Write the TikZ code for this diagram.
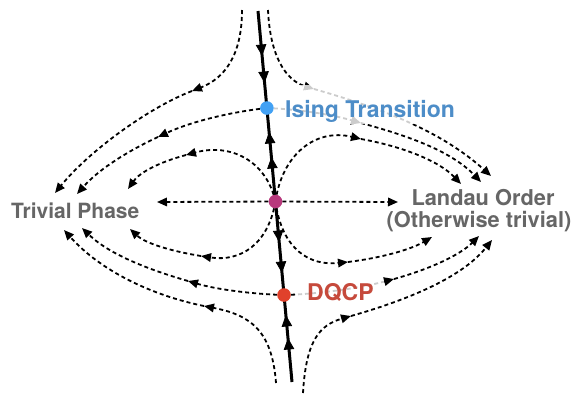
\documentclass[tikz,border=0pt]{standalone}
\usepackage{fontspec}
\setmainfont{TeX Gyre Heros}
\usetikzlibrary{arrows.meta,calc}
\definecolor{isingdot}{HTML}{42A1F4}
\definecolor{magentadot}{HTML}{B8397D}
\definecolor{dqcpdot}{HTML}{E0412B}
\definecolor{isingtext}{HTML}{4D8DC8}
\definecolor{dqcptext}{HTML}{C64A3C}
\definecolor{graytext}{HTML}{666666}
\begin{document}
\begin{tikzpicture}[x=1pt,y=-1pt,
  flow/.style={line width=1.8pt, dash pattern=on 4pt off 3pt, -{Triangle[length=10pt,width=8.5pt]}},
  mainline/.style={line width=3pt},
  mainarr/.style={line width=0.8pt, -{Triangle[length=11.5pt,width=10.5pt]}},
  dot/.style={circle, inner sep=0pt, minimum size=13.6pt},
  lbl/.style={inner sep=0pt},
]
\useasboundingbox (0,0) rectangle (572,397);

% main line
\coordinate (T) at (258,11);
\coordinate (B) at (292,382);
\coordinate (I) at ($(T)!.2615!(B)$);
\coordinate (M) at ($(T)!.5135!(B)$);
\coordinate (D) at ($(T)!.7655!(B)$);

% top-left flows
\coordinate (tl1s) at (242,10); \coordinate (tl1m) at (192,91); \coordinate (tl1e) at (55,193);
\draw[flow] (tl1s) .. controls (242,55) and (225,78) .. (tl1m);
\draw[flow] (tl1m) .. controls (150,107) and (90,150) .. (tl1e);
\coordinate (tl2m) at (158,137); \coordinate (tl2e) at (77,194);
\draw[flow] (I) .. controls (230,112) and (190,122) .. (tl2m);
\draw[flow] (tl2m) .. controls (130,150) and (100,168) .. (tl2e);
\coordinate (tl3m) at (186,155); \coordinate (tl3e) at (128,189);
\draw[flow] (M) .. controls (266,160) and (230,143) .. (tl3m);
\draw[flow] (tl3m) .. controls (160,162) and (140,172) .. (tl3e);

% horizontal
\coordinate (hl) at (157,202); \coordinate (hr) at (398,202);
\draw[flow] (M) -- (hl);
\draw[flow] (M) -- (hr);

% top-right flows
\coordinate (tr1s) at (268,10); \coordinate (tr1m) at (314,89); \coordinate (tr1e) at (491,176);
\draw[flow] (tr1s) .. controls (270,55) and (285,80) .. (tr1m);
\draw[flow] (tr1m) .. controls (380,108) and (440,130) .. (tr1e);
\coordinate (tr2m) at (361,123); \coordinate (tr2e) at (481,182);
\draw[flow] (I) .. controls (295,109) and (330,114) .. (tr2m);
\draw[flow] (tr2m) .. controls (405,135) and (450,150) .. (tr2e);
\coordinate (tr3m) at (361,139); \coordinate (tr3e) at (461,184);
\draw[flow] (M) .. controls (282,155) and (315,128) .. (tr3m);
\draw[flow] (tr3m) .. controls (400,146) and (438,160) .. (tr3e);

% bottom-left flows
\coordinate (bl1m) at (201,256); \coordinate (bl1e) at (130,229);
\draw[flow] (M) .. controls (268,245) and (240,262) .. (bl1m);
\draw[flow] (bl1m) .. controls (170,251) and (145,243) .. (bl1e);
\coordinate (bl2m) at (188,281); \coordinate (bl2e) at (82,228);
\draw[flow] (D) .. controls (250,294) and (215,289) .. (bl2m);
\draw[flow] (bl2m) .. controls (150,270) and (110,255) .. (bl2e);
\coordinate (bl3s) at (276,383); \coordinate (bl3m) at (204,306); \coordinate (bl3e) at (64,230);
\draw[flow] (bl3s) .. controls (272,330) and (250,315) .. (bl3m);
\draw[flow] (bl3m) .. controls (150,295) and (100,270) .. (bl3e);

% bottom-right flows
\coordinate (br1m) at (348,262); \coordinate (br1e) at (432,237);
\draw[flow] (M) .. controls (282,250) and (310,266) .. (br1m);
\draw[flow] (br1m) .. controls (380,258) and (410,250) .. (br1e);
\coordinate (br2m) at (394,279); \coordinate (br2e) at (479,236);
\draw[flow] (D) .. controls (320,294) and (360,288) .. (br2m);
\draw[flow] (br2m) .. controls (430,269) and (460,255) .. (br2e);
\coordinate (br3s) at (303,393); \coordinate (br3m) at (351,316); \coordinate (br3e) at (492,240);
\draw[flow] (br3s) .. controls (306,340) and (320,325) .. (br3m);
\draw[flow] (br3m) .. controls (400,302) and (460,280) .. (br3e);

% main line with arrows
\draw[mainline] (T) -- (B);
\foreach \a/\b in {.0916/.1213, .1644/.1941, .3558/.3261, .4232/.3935,
                   .5930/.6226, .6765/.7062, .8491/.8194, .9111/.8814}
  \draw[mainarr] ($(T)!\a!(B)$) -- ($(T)!\b!(B)$);

% labels
\node[lbl, text=isingtext, fill=white, fill opacity=.8, text opacity=1,
      inner xsep=14pt, inner ysep=0pt, text height=32pt, text depth=7pt,
      anchor=base west, font=\fontsize{23}{26}\selectfont\bfseries]
      (isinglbl) at (271,117) {Ising Transition};
\node[lbl, text=dqcptext, fill=white, fill opacity=.8, text opacity=1,
      inner xsep=10pt, inner ysep=0pt, text height=20pt, text depth=6pt,
      anchor=base west, font=\fontsize{23}{26}\selectfont\bfseries]
      (dqcplbl) at (297,300) {DQCP};
\node[lbl, text=graytext, anchor=base west, font=\fontsize{21}{24}\selectfont\bfseries]
      (trivial) at (11,218) {Trivial Phase};
\node[lbl, text=graytext, anchor=base, font=\fontsize{21.8}{24}\selectfont\bfseries]
      (landau) at (483,205) {Landau Order};
\node[lbl, text=graytext, anchor=base, font=\fontsize{21.8}{24}\selectfont\bfseries]
      (otherwise) at (479,227) {(Otherwise trivial)};

% fixed points
\node[dot, fill=isingdot] (isingpt) at (I) {};
\node[dot, fill=magentadot] (magpt) at (M) {};
\node[dot, fill=dqcpdot] (dqcppt) at (D) {};
\end{tikzpicture}
\end{document}
